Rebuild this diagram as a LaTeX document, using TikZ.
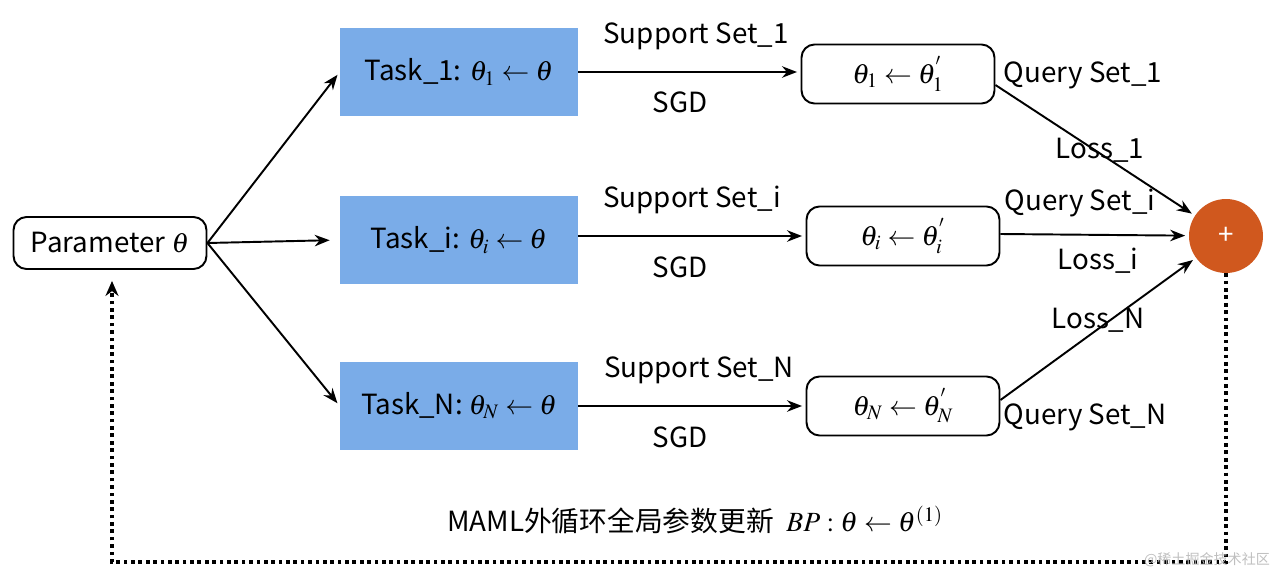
\documentclass[tikz,border=0pt]{standalone}
\usepackage{mathptmx}
\usepackage{fontspec}
\setmainfont{Noto Sans CJK SC}
\usepackage{tikz}
\usetikzlibrary{arrows.meta,calc}
\definecolor{taskblue}{RGB}{122,172,232}
\definecolor{sumorange}{RGB}{208,88,30}
\tikzset{
  conn/.style={line width=1.1pt,-{Stealth[length=3mm,width=2.3mm]}},
  roundbox/.style={draw,line width=1.1pt,rounded corners=0.26cm,inner sep=0pt},
  taskbox/.style={fill=taskblue,minimum width=4.76cm,minimum height=1.78cm,inner sep=0pt},
  lbl/.style={inner sep=0pt}
}
\begin{document}
\begin{tikzpicture}[x=0.02cm,y=-0.02cm,font=\fontsize{15.8}{18}\selectfont]
			%%%%% START %%%%%
			\useasboundingbox (0,0) rectangle (1276,578);
			
			\node[roundbox,minimum width=3.86cm,minimum height=1.04cm] (param) at (110,243) {Parameter $\theta$};
			
			\node[taskbox] (task1) at (459,72) {Task\_1: $\theta_1\leftarrow\theta$};
			\node[taskbox] (taski) at (459,240) {Task\_i: $\theta_i\leftarrow\theta$};
			\node[taskbox] (taskN) at (459,406) {Task\_N: $\theta_N\leftarrow\theta$};
			
			\node[roundbox,minimum width=3.86cm,minimum height=1.18cm] (upd1) at (898,74) {$\theta_1\leftarrow\theta_1^{'}$};
			\node[roundbox,minimum width=3.86cm,minimum height=1.18cm] (updi) at (903,236) {$\theta_i\leftarrow\theta_i^{'}$};
			\node[roundbox,minimum width=3.86cm,minimum height=1.18cm] (updN) at (903,406) {$\theta_N\leftarrow\theta_N^{'}$};
			
			\node[circle,fill=sumorange,minimum size=1.48cm,inner sep=0pt,text=white] (plus) at (1226,236) {+};
			
			\draw[conn,shorten >=2pt] (param.east) -- (task1.west);
			\draw[conn,shorten >=0.2cm] (param.east) -- (taski.west);
			\draw[conn,shorten >=2pt] (param.east) -- (taskN.west);
			
			\draw[conn,shorten >=2pt] (task1.east) -- (task1.east -| upd1.west);
			\draw[conn,shorten >=2pt] ($(taski.east)+(0,-4)$) -- ($(taski.east -| updi.west)+(0,-4)$);
			\draw[conn,shorten >=2pt] (taskN.east) -- (taskN.east -| updN.west);
			
			\draw[conn,shorten >=2pt] ($(upd1.east)+(0,11)$) -- (plus);
			\draw[conn,shorten >=2pt] ($(updi.east)+(0,-2)$) -- (plus);
			\draw[conn,shorten >=2pt] ($(updN.east)+(0,-6)$) -- (plus);
			
			\node[lbl] (ss1) at (696,36) {Support Set\_1};
			\node[lbl] (sgd1) at (680,102) {SGD};
			\node[lbl] (ssi) at (692,200) {Support Set\_i};
			\node[lbl] (sgdi) at (680,267) {SGD};
			\node[lbl] (ssN) at (699,370) {Support Set\_N};
			\node[lbl] (sgdN) at (680,437) {SGD};
			
			\node[lbl] (qs1) at (1083,75) {Query Set\_1};
			\node[lbl] (loss1) at (1100,150) {Loss\_1};
			\node[lbl] (qsi) at (1080,203) {Query Set\_i};
			\node[lbl] (lossi) at (1098,261) {Loss\_i};
			\node[lbl] (lossN) at (1098,320) {Loss\_N};
			\node[lbl] (qsN) at (1085,417) {Query Set\_N};
			
			\coordinate (cr) at (1226,562);
			\coordinate (cl) at (112,562);
			\draw[line width=2.1pt,dash pattern=on 2.1pt off 2.1pt,-{Stealth[length=3mm,width=2.6mm]},shorten >=0.22cm] (plus.south) -- (cr) -- (cl) -- (cl |- param.south);
			
			\node[lbl] (outer) at (695,520) {MAML外循环全局参数更新\ \ $BP:\theta\leftarrow\theta^{(1)}$};
			\node[lbl,text=black!25,font=\fontsize{8}{10}\selectfont] (mark) at (1207,560) {@稀土掘金技术社区};
			%%%%% END %%%%%
\end{tikzpicture}
\end{document}
